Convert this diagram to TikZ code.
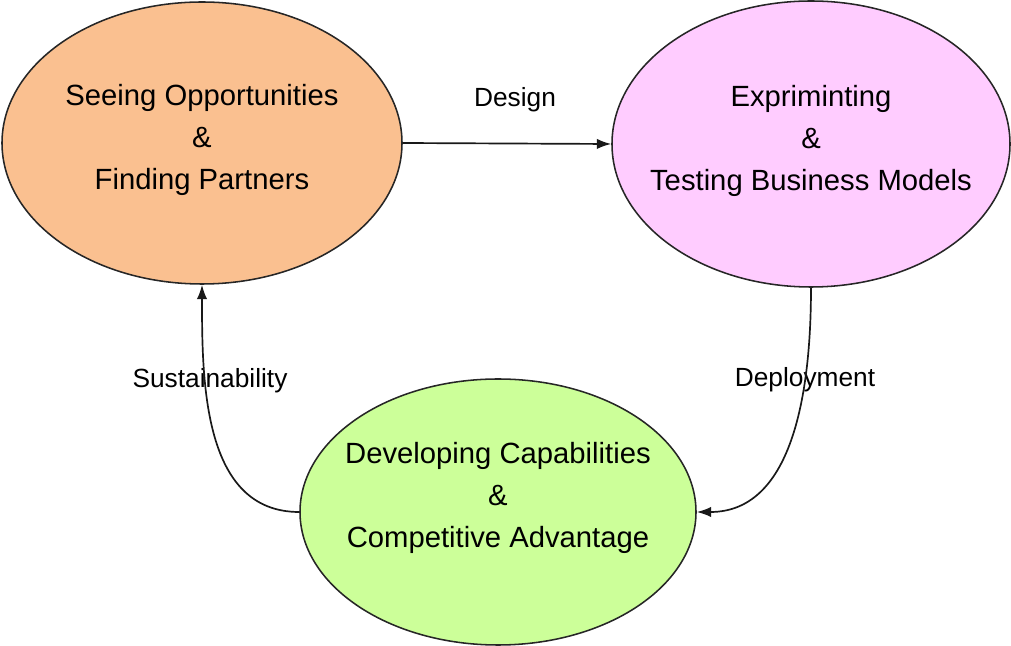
\documentclass[tikz,border=0pt]{standalone}
\usepackage{fontspec}
\setmainfont{Liberation Sans}
\usetikzlibrary{shapes.geometric, arrows.meta, positioning}
\definecolor{orangefill}{RGB}{250,192,144}
\definecolor{pinkfill}{RGB}{255,204,255}
\definecolor{greenfill}{RGB}{204,255,153}
\tikzset{
	stage/.style={ellipse, draw=black!85, line width=1.1pt, inner sep=-0.7cm, align=center, text depth=9pt, font=\fontsize{20.8}{30}\selectfont},
	flow/.style={draw=black!90, line width=1.2pt, -{Latex[length=3.6mm,width=2.6mm]}},
	flowlabel/.style={font=\fontsize{18.7}{22}\selectfont, inner sep=0pt}
}

\begin{document}
\begin{tikzpicture}
				\useasboundingbox (0,0) rectangle (25.275,-16.15);
				\node[stage, fill=orangefill, minimum width=10cm, minimum height=7.05cm] (seeing) at (5.05,-3.575) {Seeing Opportunities\\\&\\Finding Partners};
				\node[stage, fill=pinkfill, minimum width=9.95cm, minimum height=7.15cm] (testing) at (20.275,-3.6) {Expriminting\\\&\\Testing Business Models};
				\node[stage, fill=greenfill, minimum width=9.9cm, minimum height=6.65cm, text depth=24pt] (developing) at (12.45,-12.8) {Developing Capabilities\\\&\\Competitive Advantage};
				\node[flowlabel] (design) at (12.875,-2.5) {Design};
				\node[flowlabel] (deployment) at (20.125,-9.5) {Deployment};
				\node[flowlabel] (sustain) at (5.25,-9.525) {Sustainability};
				\draw[flow] (seeing.east) -- (testing.west);
				\draw[flow] (testing.south) to[out=-90, in=0] (developing.east);
				\draw[flow] (developing.west) to[out=180, in=-90] (seeing.south);
			\end{tikzpicture}
\end{document}
